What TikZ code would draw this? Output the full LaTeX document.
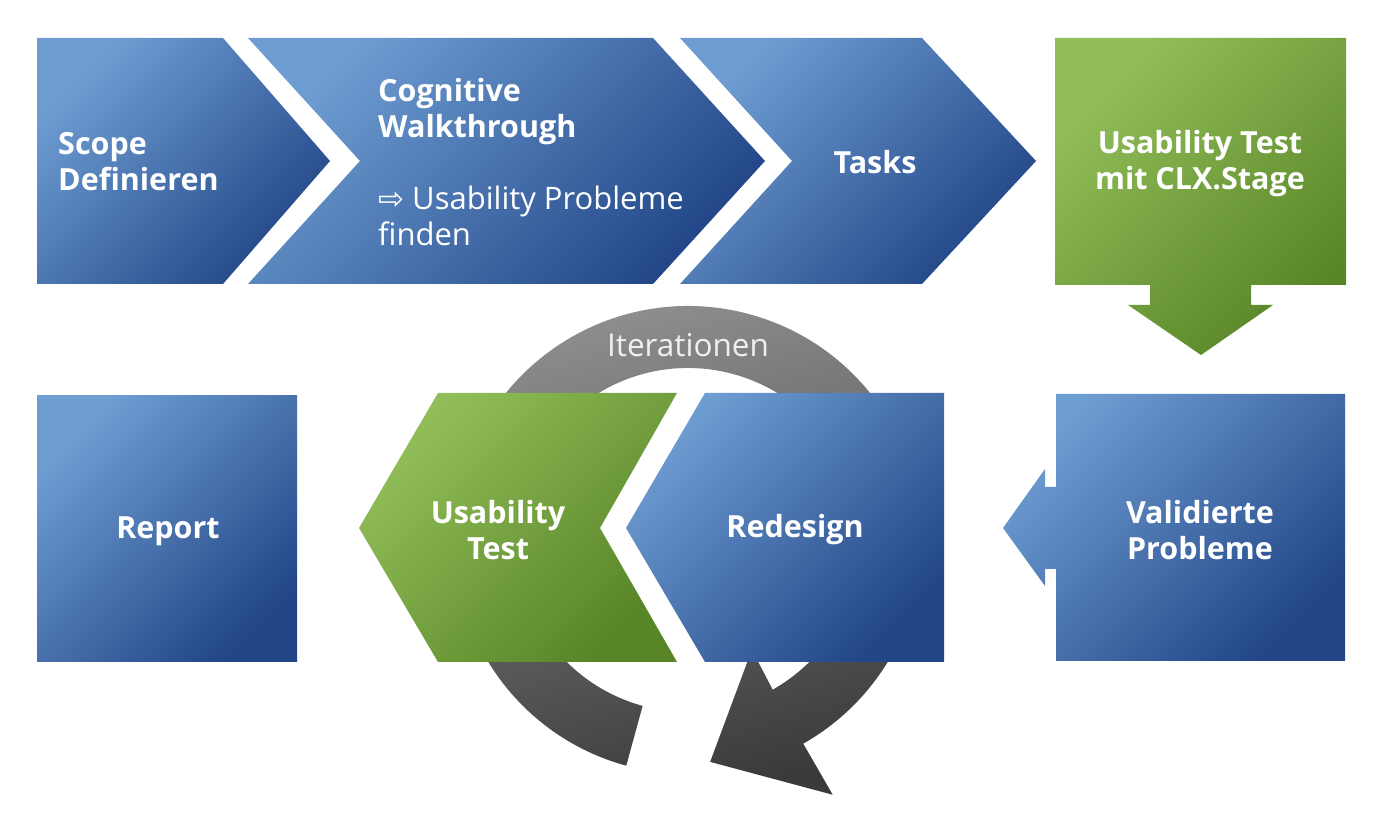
\documentclass[tikz,border=0pt]{standalone}
\usepackage{fontspec}
\setmainfont{Open Sans}
\newfontfamily\symfont{DejaVu Sans}
\definecolor{blueL}{RGB}{110,157,210}
\definecolor{blueD}{RGB}{34,70,135}
\definecolor{greenL}{RGB}{146,190,90}
\definecolor{greenD}{RGB}{88,133,38}
\definecolor{ringL}{RGB}{145,145,145}
\definecolor{ringD}{RGB}{58,58,58}
\definecolor{itertext}{RGB}{240,240,240}
\tikzset{
  bluefill/.style={top color=blueL, bottom color=blueD, shading angle=45},
  greenfill/.style={top color=greenL, bottom color=greenD, shading angle=45},
  lbl/.style={text=white, font=\fontsize{30.5}{36}\selectfont\bfseries, align=center, inner sep=0pt},
  lbll/.style={text=white, font=\fontsize{31}{36}\selectfont, align=left, inner sep=0pt},
}
\begin{document}
\begin{tikzpicture}[x=1pt,y=1pt]
\useasboundingbox (0,0) rectangle (1383,832);
% ring
\begin{scope}[shift={(688,292)}]
\shade[top color=ringL, bottom color=ringD, shading angle=15]
  (254.7:234) arc[start angle=254.7, end angle=-60.5, radius=234]
  -- (-60.4:293) -- (-84.3:223) -- (-59.8:127) -- (-60.5:172)
  arc[start angle=-60.5, end angle=254.7, radius=172] -- cycle;
\end{scope}
% top row
\shade[bluefill] (37,794) -- (223,794) -- (330,671) -- (223,548) -- (37,548) -- cycle;
\shade[bluefill] (248,794) -- (653,794) -- (765,671) -- (653,548) -- (248,548) -- (360,671) -- cycle;
\shade[bluefill] (680,794) -- (922,794) -- (1036,671) -- (922,548) -- (680,548) -- (792,671) -- cycle;
\shade[greenfill] (1055,794) -- (1346,794) -- (1346,547) -- (1251,547) -- (1251,527) -- (1273,527)
  -- (1201,477) -- (1128,527) -- (1150,527) -- (1150,547) -- (1055,547) -- cycle;
% bottom row
\shade[bluefill] (37,436) -- (297,436) -- (297,170) -- (37,170) -- cycle;
\shade[greenfill] (438,439) -- (677,439) -- (600,304) -- (677,170) -- (438,170) -- (359,304) -- cycle;
\shade[bluefill] (705,439) -- (944,439) -- (944,170) -- (705,170) -- (626,304) -- cycle;
\shade[bluefill] (1056,438) -- (1345,438) -- (1345,171) -- (1056,171) -- (1056,263) -- (1045,263)
  -- (1045,246) -- (1003,304) -- (1045,363) -- (1045,345) -- (1056,345) -- cycle;
% labels
\node[lbl, align=left, anchor=west] (scope) at (58,670) {Scope\\Definieren};
\node[lbll, anchor=west] (cog) at (378,670) {\textbf{\fontsize{30.5}{36}\selectfont Cognitive}\\\textbf{\fontsize{30.5}{36}\selectfont Walkthrough}\\[36pt]{\symfont ⇨} Usability Probleme\\finden};
\node[lbl] (tasks) at (875,670) {Tasks};
\node[lbl] (utclx) at (1200,668) {Usability Test\\mit CLX.Stage};
\node[lbl] (report) at (168,301) {Report};
\node[lbl] (ut) at (498,302) {Usability\\Test};
\node[lbl] (redesign) at (795,302) {Redesign};
\node[lbl] (valid) at (1200,302) {Validierte\\Probleme};
\node[lbll, text=itertext, font=\fontsize{31.5}{36}\selectfont] (iter) at (688,487) {Iterationen};
\end{tikzpicture}
\end{document}
